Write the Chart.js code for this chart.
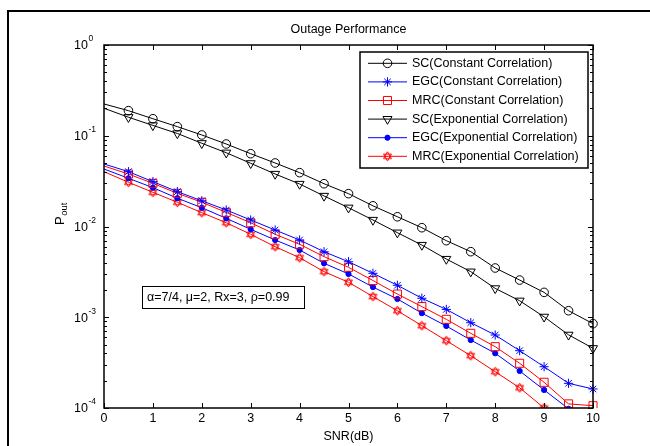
<!DOCTYPE html>
<html>
<head>
<meta charset="utf-8">
<script src="https://cdn.jsdelivr.net/npm/chart.js@4/dist/chart.umd.min.js"></script>
<style>
  html, body { margin: 0; padding: 0; background: #fff; }
  #c { display: block; }
</style>
</head>
<body>
<canvas id="c" width="650" height="446"></canvas>
<script>
// SNR grid (dB)
const snr = [0, 0.5, 1, 1.5, 2, 2.5, 3, 3.5, 4, 4.5, 5, 5.5, 6, 6.5, 7, 7.5, 8, 8.5, 9, 9.5, 10];

// outage probability
const scConst  = [0.224, 0.189, 0.154, 0.126, 0.102, 0.0811, 0.0634, 0.0501, 0.0392, 0.0296, 0.0230, 0.0169, 0.0128, 0.0097, 0.00698, 0.00528, 0.00349, 0.00257, 0.00188, 0.00118, 0.00085];
const egcConst = [0.0489, 0.0402, 0.0312, 0.0242, 0.0192, 0.0152, 0.0118, 0.00915, 0.0071, 0.00527, 0.00409, 0.00305, 0.00225, 0.00162, 0.00122, 0.000871, 0.000637, 0.000428, 0.000285, 0.000187, 0.000162];
const mrcConst = [0.0464, 0.0379, 0.0299, 0.0232, 0.0185, 0.0143, 0.0110, 0.0082, 0.00637, 0.00465, 0.00355, 0.00254, 0.0018, 0.00131, 0.000949, 0.000665, 0.000474, 0.000311, 0.000192, 0.000111, 0.000106];
const scExp    = [0.201, 0.160, 0.130, 0.106, 0.0826, 0.0650, 0.0497, 0.0379, 0.0294, 0.0217, 0.0161, 0.0118, 0.00855, 0.00625, 0.00438, 0.00318, 0.00208, 0.00152, 0.00101, 0.00064, 0.000455];
const egcExp   = [0.0430, 0.0340, 0.0268, 0.0205, 0.0161, 0.0123, 0.00931, 0.0071, 0.00551, 0.00393, 0.0030, 0.00215, 0.00159, 0.00111, 0.000801, 0.000561, 0.000401, 0.000256, 0.000158, 0.000098, 0.00005];
const mrcExp   = [0.0402, 0.0307, 0.0238, 0.0185, 0.0142, 0.0110, 0.0082, 0.00599, 0.00453, 0.00318, 0.00243, 0.00169, 0.00118, 0.000807, 0.000552, 0.000377, 0.000251, 0.000167, 0.0001, 0.00005, 0.00002];

const seriesNames = ['SC(Constant Correlation)', 'EGC(Constant Correlation)', 'MRC(Constant Correlation)',
                     'SC(Exponential Correlation)', 'EGC(Exponential Correlation)', 'MRC(Exponential Correlation)'];
const xTicks = [0, 1, 2, 3, 4, 5, 6, 7, 8, 9, 10];
const yTickExps = [0, -1, -2, -3, -4];

const FONT = '"Liberation Sans", Arial, Helvetica, sans-serif';

function hexagram(color) {
  const c = document.createElement('canvas');
  c.width = 11; c.height = 11;
  const g = c.getContext('2d');
  g.strokeStyle = color; g.lineWidth = 1;
  const cx = 5.5, cy = 5.5, r = 4.6;
  [[-90, 30, 150], [90, 210, 330]].forEach(tri => {
    g.beginPath();
    tri.forEach((a, i) => {
      const t = a * Math.PI / 180;
      const px = cx + r * Math.cos(t), py = cy + r * Math.sin(t);
      if (i === 0) g.moveTo(px, py); else g.lineTo(px, py);
    });
    g.closePath(); g.stroke();
  });
  return c;
}

function pts(arr) { return arr.map((v, i) => ({ x: snr[i], y: v })); }
function rad(r) { return ctx => ctx.dataIndex === 0 ? 0 : r; }

const base = { borderWidth: 1, pointBorderWidth: 1, tension: 0, fill: false, clip: { left: 0, top: 8, right: 8, bottom: 0 } };

const datasets = [
  Object.assign({}, base, { label: seriesNames[0], data: pts(scConst), borderColor: '#000', pointBorderColor: '#000',
    pointBackgroundColor: 'rgba(0,0,0,0)', pointStyle: 'circle', pointRadius: rad(4.3) }),
  Object.assign({}, base, { label: seriesNames[1], data: pts(egcConst), borderColor: '#0000ff', pointBorderColor: '#0000ff',
    pointBackgroundColor: 'rgba(0,0,0,0)', pointStyle: 'star', pointRadius: rad(4.6) }),
  Object.assign({}, base, { label: seriesNames[2], data: pts(mrcConst), borderColor: '#ff0000', pointBorderColor: '#ff0000',
    pointBackgroundColor: 'rgba(0,0,0,0)', pointStyle: 'rect', pointRadius: rad(5.7) }),
  Object.assign({}, base, { label: seriesNames[3], data: pts(scExp), borderColor: '#000', pointBorderColor: '#000',
    pointBackgroundColor: 'rgba(0,0,0,0)', pointStyle: 'triangle', pointRotation: 180, pointRadius: rad(5.2) }),
  Object.assign({}, base, { label: seriesNames[4], data: pts(egcExp), borderColor: '#0000ff', pointBorderColor: '#0000ff',
    pointBackgroundColor: '#0000ff', pointStyle: 'circle', pointRadius: rad(2.6) }),
  Object.assign({}, base, { label: seriesNames[5], data: pts(mrcExp), borderColor: '#ff0000', pointBorderColor: '#ff0000',
    pointBackgroundColor: 'rgba(0,0,0,0)', pointStyle: hexagram('#ff0000'), pointRadius: rad(5) })
];

function marker(ctx, ds, x, y) {
  const r = typeof ds.pointRadius === 'function' ? ds.pointRadius({ dataIndex: 1 }) : ds.pointRadius;
  const opts = { pointStyle: ds.pointStyle, rotation: ds.pointRotation || 0, radius: r, borderWidth: 1 };
  ctx.save();
  ctx.strokeStyle = ds.pointBorderColor;
  ctx.fillStyle = ds.pointBackgroundColor;
  ctx.lineWidth = 1;
  Chart.helpers.drawPoint(ctx, opts, x, y);
  ctx.restore();
}

const decor = {
  id: 'decor',
  beforeDraw(chart) {
    const ctx = chart.ctx;
    ctx.save();
    ctx.fillStyle = '#fff';
    ctx.fillRect(0, 0, chart.width, chart.height);
    // figure frame
    ctx.strokeStyle = '#000';
    ctx.lineWidth = 2;
    ctx.beginPath();
    ctx.moveTo(8, 446); ctx.lineTo(8, 11); ctx.lineTo(650, 11);
    ctx.stroke();
    ctx.restore();
  },
  afterDatasetsDraw(chart) {
    const ctx = chart.ctx;
    const a = chart.chartArea;
    const xs = chart.scales.x, ys = chart.scales.y;
    ctx.save();
    ctx.strokeStyle = '#000';
    ctx.fillStyle = '#000';

    // ticks
    ctx.lineWidth = 1;
    ctx.beginPath();
    xTicks.forEach(t => {
      const px = Math.round(xs.getPixelForValue(t)) + 0.5;
      ctx.moveTo(px, a.bottom); ctx.lineTo(px, a.bottom - 5);
      ctx.moveTo(px, a.top); ctx.lineTo(px, a.top + 5);
    });
    for (let e = -4; e <= 0; e++) {
      for (let m = 1; m <= 9; m++) {
        const v = m * Math.pow(10, e);
        if (v > 1) break;
        const py = Math.round(ys.getPixelForValue(v)) + 0.5;
        const len = m === 1 ? 5 : 3;
        ctx.moveTo(a.left, py); ctx.lineTo(a.left + len, py);
        ctx.moveTo(a.right, py); ctx.lineTo(a.right - len, py);
      }
    }
    ctx.stroke();

    // axes box
    ctx.lineWidth = 1.5;
    ctx.strokeRect(a.left, a.top, a.right - a.left, a.bottom - a.top);

    // x tick labels
    ctx.font = '12.5px ' + FONT;
    ctx.textAlign = 'center';
    ctx.textBaseline = 'middle';
    xTicks.forEach(t => ctx.fillText(String(t), xs.getPixelForValue(t), 419));

    // y tick labels 10^e
    yTickExps.forEach(e => {
      const py = ys.getPixelForValue(Math.pow(10, e));
      ctx.font = '12.5px ' + FONT;
      ctx.textAlign = 'right';
      ctx.textBaseline = 'middle';
      ctx.fillText('10', 88, py + 1);
      ctx.font = '8.5px ' + FONT;
      ctx.textAlign = 'left';
      ctx.fillText(String(e), 88.5, py - 6);
    });

    // title and axis labels
    const cx = (a.left + a.right) / 2;
    ctx.font = '12.5px ' + FONT;
    ctx.textAlign = 'center';
    ctx.textBaseline = 'middle';
    ctx.fillText('Outage Performance', cx, 30);
    ctx.fillText('SNR(dB)', cx, 437);

    ctx.save();
    ctx.translate(60, 225);
    ctx.rotate(-Math.PI / 2);
    ctx.textAlign = 'left';
    ctx.font = '13px ' + FONT;
    ctx.fillText('P', 0, 0);
    const pw = ctx.measureText('P').width;
    ctx.font = '9.5px ' + FONT;
    ctx.fillText('out', pw + 0.5, 4);
    ctx.restore();

    // legend
    const lx = 360, ly = 52, lw = 228, lh = 116;
    ctx.fillStyle = '#fff';
    ctx.fillRect(lx, ly, lw, lh);
    ctx.lineWidth = 1.5;
    ctx.strokeStyle = '#000';
    ctx.strokeRect(lx, ly, lw, lh);
    chart.data.datasets.forEach((ds, i) => {
      const ry = 63.3 + i * 18.6;
      ctx.strokeStyle = ds.borderColor;
      ctx.lineWidth = 1;
      ctx.beginPath();
      ctx.moveTo(368, ry); ctx.lineTo(407, ry);
      ctx.stroke();
      marker(ctx, ds, 387.5, ry);
      ctx.fillStyle = '#000';
      ctx.font = '12.5px ' + FONT;
      ctx.textAlign = 'left';
      ctx.textBaseline = 'middle';
      ctx.fillText(ds.label, 412, ry);
    });

    // parameter note
    ctx.fillStyle = '#fff';
    ctx.fillRect(142, 286, 162, 22);
    ctx.strokeStyle = '#000';
    ctx.lineWidth = 1;
    ctx.strokeRect(142.5, 286.5, 162, 22);
    ctx.fillStyle = '#000';
    ctx.font = '12.5px ' + FONT;
    ctx.textAlign = 'left';
    ctx.textBaseline = 'middle';
    ctx.fillText('\u03b1=7/4, \u03bc=2, Rx=3, \u03c1=0.99', 147, 297.5);

    ctx.restore();
  }
};

new Chart(document.getElementById('c'), {
  type: 'line',
  data: { datasets },
  options: {
    responsive: false,
    animation: false,
    devicePixelRatio: 1,
    layout: { padding: { left: 104, right: 57, top: 45, bottom: 38 } },
    plugins: { legend: { display: false }, tooltip: { enabled: false }, title: { display: false } },
    scales: {
      x: { type: 'linear', min: 0, max: 10, display: false },
      y: { type: 'logarithmic', min: 0.0001, max: 1, display: false }
    }
  },
  plugins: [decor]
});
</script>
</body>
</html>
